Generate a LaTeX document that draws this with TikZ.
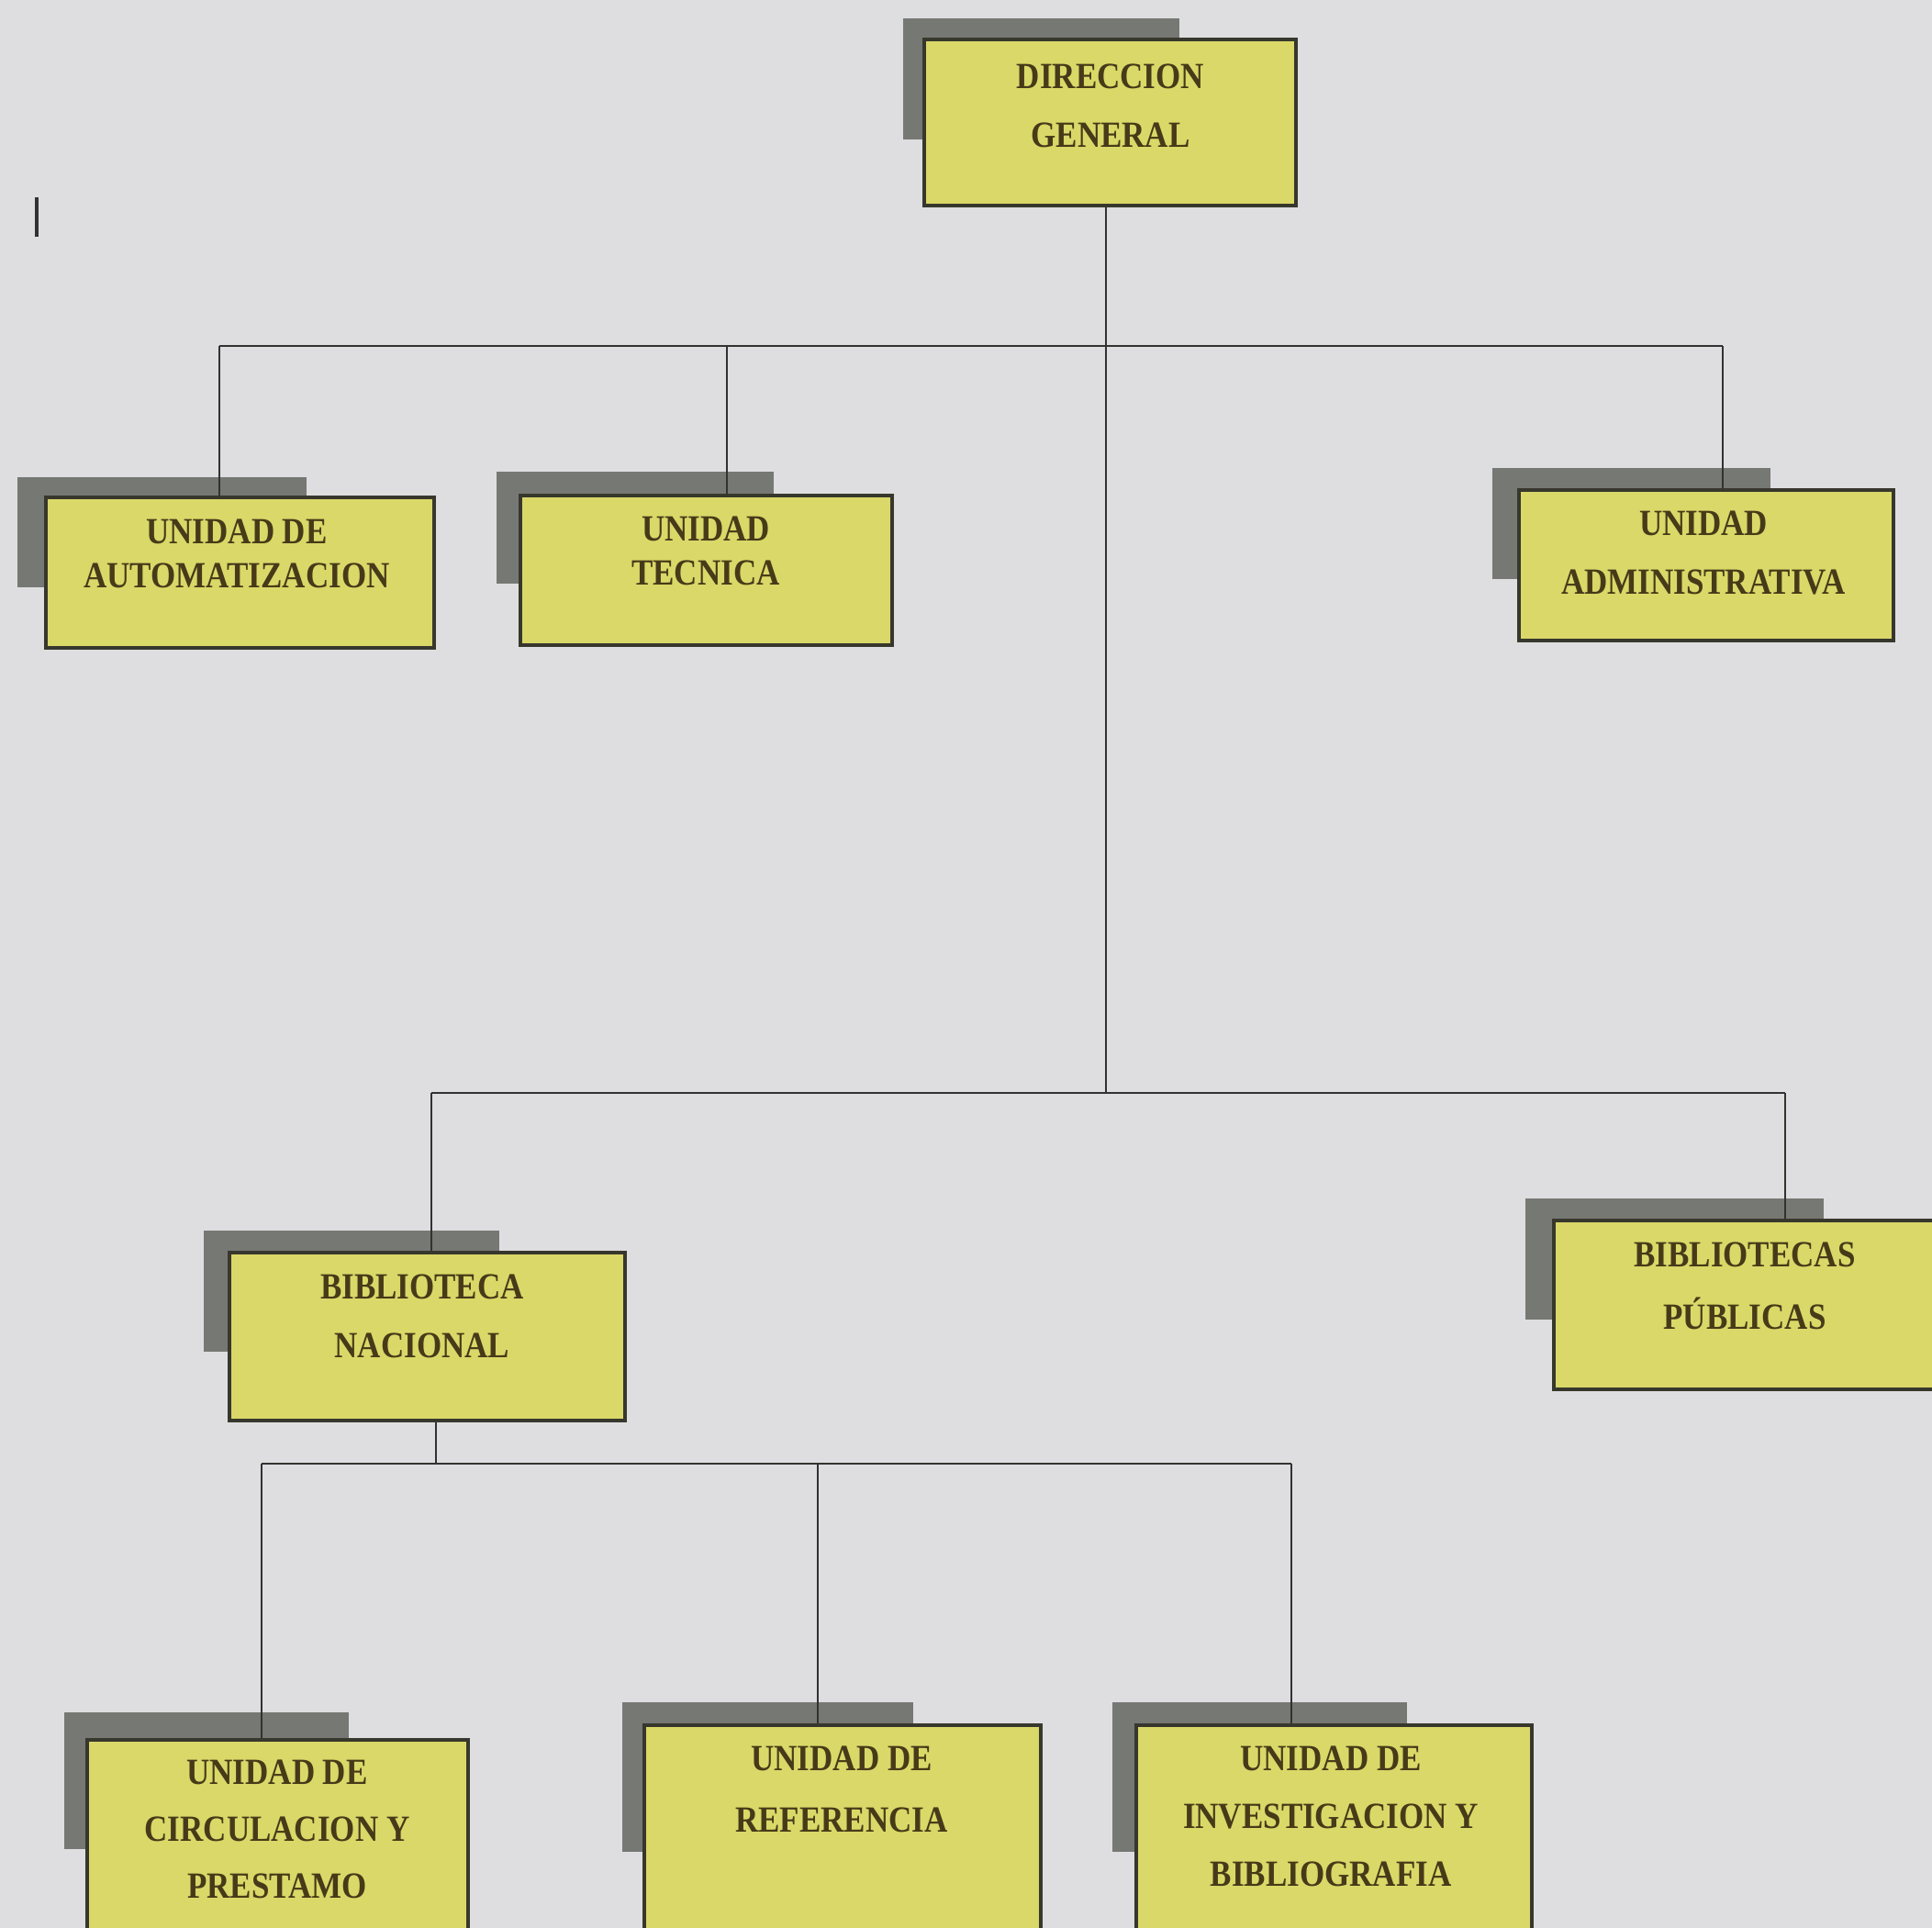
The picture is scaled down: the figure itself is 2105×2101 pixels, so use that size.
\documentclass[tikz,border=0pt]{standalone}
\usepackage{fontspec}
\setmainfont{Liberation Serif}
\usepackage{graphicx}

\definecolor{paper}{RGB}{222,222,225}
\definecolor{boxfill}{RGB}{218,216,104}
\definecolor{boxline}{RGB}{55,55,45}
\definecolor{shadowc}{RGB}{118,120,116}
\definecolor{inkc}{RGB}{70,58,25}
\definecolor{wire}{RGB}{50,50,48}

% one printed line of a label, set a little taller than wide
\newcommand\tall[1]{\scalebox{1}[1.15]{#1}}

\tikzset{
  unitbox/.style={draw=boxline, line width=3.5pt, fill=boxfill, inner sep=0pt},
  shade/.style={fill=shadowc},
  conn/.style={draw=wire, line width=2.6pt},
  lbl/.style={text=inkc, align=center, inner sep=0pt,
              font=\fontsize{35pt}{64pt}\selectfont\bfseries},
  lblnarrow/.style={lbl, font=\fontsize{35pt}{48pt}\selectfont\bfseries},
}

\begin{document}
\begin{tikzpicture}[x=1pt, y=-1pt]
  % page
  \fill[paper] (0,0) rectangle (2105,2101);
  \useasboundingbox (0,0) rectangle (2105,2101);
  \clip (0,0) rectangle (2105,2101);

  % margin mark
  \draw[wire, line width=4pt] (40,215) -- (40,258);

  % shadows behind the boxes
  \fill[shade] (984,20)   rectangle (1285,152);
  \fill[shade] (19,520)   rectangle (334,640);
  \fill[shade] (541,514)  rectangle (843,636);
  \fill[shade] (1626,510) rectangle (1929,631);
  \fill[shade] (222,1341) rectangle (544,1473);
  \fill[shade] (1662,1306) rectangle (1987,1438);
  \fill[shade] (70,1866)  rectangle (380,2015);
  \fill[shade] (678,1855) rectangle (995,2018);
  \fill[shade] (1212,1855) rectangle (1533,2018);

  % boxes
  \node[unitbox, minimum width=405pt, minimum height=181pt] (dg)   at (1209.5,133.5) {};
  \node[unitbox, minimum width=423pt, minimum height=164pt] (aut)  at (261.5,624) {};
  \node[unitbox, minimum width=405pt, minimum height=163pt] (tec)  at (769.5,621.5) {};
  \node[unitbox, minimum width=408pt, minimum height=164pt] (adm)  at (1859,616) {};
  \node[unitbox, minimum width=431pt, minimum height=183pt] (bn)   at (465.5,1456.5) {};
  \node[unitbox, minimum width=417pt, minimum height=184pt] (bp)   at (1901.5,1422) {};
  \node[unitbox, minimum width=415pt, minimum height=264pt] (circ) at (302.5,2028) {};
  \node[unitbox, minimum width=432pt, minimum height=280pt] (ref)  at (918,2020) {};
  \node[unitbox, minimum width=431pt, minimum height=280pt] (inv)  at (1453.5,2020) {};

  % junction points of the connectors
  \coordinate (trunk) at (1205,1191);
  \coordinate (busL)  at (239,377);
  \coordinate (busT)  at (792,377);
  \coordinate (busR)  at (1877,377);
  \coordinate (midL)  at (470,1191);
  \coordinate (midR)  at (1945,1191);
  \coordinate (bnS)   at (475,1595);
  \coordinate (lowL)  at (285,1595);
  \coordinate (lowM)  at (891,1595);
  \coordinate (lowR)  at (1407,1595);

  % connectors
  \draw[conn] (dg.south -| trunk) -- (trunk);
  \draw[conn] (busL) -- (busR);
  \draw[conn] (busL) -- (busL |- aut.north);
  \draw[conn] (busT) -- (busT |- tec.north);
  \draw[conn] (busR) -- (busR |- adm.north);
  \draw[conn] (midL) -- (midR);
  \draw[conn] (midL) -- (midL |- bn.north);
  \draw[conn] (midR) -- (midR |- bp.north);
  \draw[conn] (bnS |- bn.south) -- (bnS);
  \draw[conn] (lowL) -- (lowR);
  \draw[conn] (lowL) -- (lowL |- circ.north);
  \draw[conn] (lowM) -- (lowM |- ref.north);
  \draw[conn] (lowR) -- (lowR |- inv.north);

  % labels
  \node[lbl] (dg-t) at (1210,115.5) {\tall{DIRECCION}\\\tall{GENERAL}};
  \node[lblnarrow] (aut-t) at (258,603.5) {\tall{UNIDAD DE}\\\tall{AUTOMATIZACION}};
  \node[lblnarrow] (tec-t) at (769,600) {\tall{UNIDAD}\\\tall{TECNICA}};
  \node[lbl] (adm-t) at (1856,603) {\tall{UNIDAD}\\\tall{ADMINISTRATIVA}};
  \node[lbl] (bn-t) at (460,1434.5) {\tall{BIBLIOTECA}\\\tall{NACIONAL}};
  \node[lbl, font=\fontsize{35pt}{68pt}\selectfont\bfseries] (bp-t) at (1901,1401) {\tall{BIBLIOTECAS}\\\tall{PÚBLICAS}};
  \node[lbl, font=\fontsize{35pt}{62pt}\selectfont\bfseries] (circ-t) at (302,1993) {\tall{UNIDAD DE}\\\tall{CIRCULACION Y}\\\tall{PRESTAMO}};
  \node[lbl, font=\fontsize{35pt}{67pt}\selectfont\bfseries] (ref-t) at (917,1950) {\tall{UNIDAD DE}\\\tall{REFERENCIA}};
  \node[lbl, font=\fontsize{35pt}{63pt}\selectfont\bfseries] (inv-t) at (1450,1979) {\tall{UNIDAD DE}\\\tall{INVESTIGACION Y}\\\tall{BIBLIOGRAFIA}};
\end{tikzpicture}
\end{document}
